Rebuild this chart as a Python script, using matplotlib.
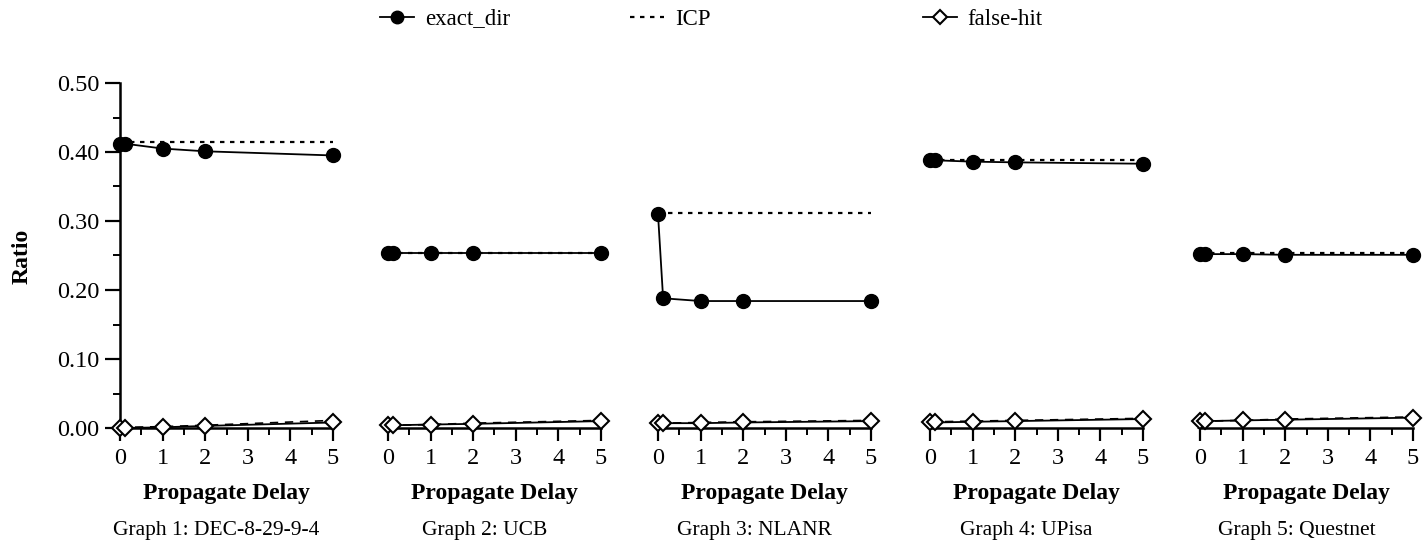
import matplotlib
matplotlib.use("Agg")
import matplotlib.pyplot as plt
from matplotlib.lines import Line2D
from matplotlib.ticker import MultipleLocator, FormatStrFormatter

plt.rcParams['font.family'] = ['Liberation Serif', 'DejaVu Serif']

delays = [0, 0.12, 1, 2, 5]
graph_titles = ["Graph 1: DEC-8-29-9-4", "Graph 2: UCB", "Graph 3: NLANR",
                "Graph 4: UPisa", "Graph 5: Questnet"]

exact_dir = [
    [0.412, 0.412, 0.405, 0.401, 0.395],
    [0.253, 0.253, 0.253, 0.253, 0.253],
    [0.310, 0.188, 0.184, 0.184, 0.184],
    [0.388, 0.388, 0.386, 0.385, 0.383],
    [0.252, 0.252, 0.252, 0.251, 0.251],
]
icp = [0.415, 0.254, 0.311, 0.389, 0.253]
false_hit = [
    [0.000, 0.000, 0.001, 0.003, 0.008],
    [0.004, 0.004, 0.005, 0.006, 0.010],
    [0.007, 0.007, 0.007, 0.008, 0.010],
    [0.008, 0.008, 0.009, 0.010, 0.013],
    [0.010, 0.010, 0.011, 0.012, 0.015],
]
icp_false_hit = [
    [0.000, 0.001, 0.002, 0.004, 0.011],
    [0.004, 0.004, 0.005, 0.007, 0.011],
    [0.007, 0.007, 0.008, 0.009, 0.011],
    [0.008, 0.009, 0.010, 0.011, 0.014],
    [0.010, 0.010, 0.011, 0.013, 0.016],
]

W, H = 1428, 544
fig = plt.figure(figsize=(W / 100, H / 100), dpi=100)

x0_px = [120, 388, 658, 930, 1200]
width_px = 213
top_px, bot_px = 83, 428
ah = bot_px - top_px
fs_tick = 17.5
fs_lab = 17
fs_cap = 15.5

for i in range(5):
    ax = fig.add_axes([x0_px[i] / W, (H - bot_px) / H, width_px / W, ah / H])
    ax.set_xlim(0, 5)
    ax.set_ylim(0, 0.5)
    for s in ['top', 'right']:
        ax.spines[s].set_visible(False)
    ax.spines['bottom'].set_linewidth(1.8)
    ax.spines['left'].set_linewidth(1.8)
    ax.patch.set_alpha(0)

    ax.plot([0, 5], [icp[i], icp[i]], color='black', linestyle=(0, (2, 2.5)), linewidth=1.6, clip_on=False)
    ax.plot(delays, icp_false_hit[i], color='black', linestyle=(0, (5, 4)), linewidth=1.2, clip_on=False)
    ax.plot(delays, exact_dir[i], color='black', linewidth=1.3, marker='o', markersize=10,
            markerfacecolor='black', clip_on=False, zorder=5)
    ax.plot(delays, false_hit[i], color='black', linewidth=1.3, marker='D', markersize=8,
            markerfacecolor='white', markeredgewidth=1.5, clip_on=False, zorder=5)

    ax.xaxis.set_major_locator(MultipleLocator(1))
    ax.xaxis.set_minor_locator(MultipleLocator(0.5))
    ax.tick_params(axis='x', which='major', direction='out', length=9, width=1.6,
                   labelsize=fs_tick, pad=5.5)
    ax.tick_params(axis='x', which='minor', direction='out', length=5, width=1.4)
    ax.text(0.5, (bot_px - 493) / ah, "Propagate Delay", transform=ax.transAxes,
            ha='center', va='center', fontsize=fs_lab, fontweight='bold')
    ax.text(0.5 - 10 / width_px, (bot_px - 530) / ah, graph_titles[i], transform=ax.transAxes,
            ha='center', va='center', fontsize=fs_cap)

    if i == 0:
        ax.yaxis.set_major_locator(MultipleLocator(0.1))
        ax.yaxis.set_minor_locator(MultipleLocator(0.05))
        ax.yaxis.set_major_formatter(FormatStrFormatter('%.2f'))
        ax.tick_params(axis='y', which='major', direction='out', length=11, width=1.6,
                       labelsize=fs_tick, pad=4)
        ax.tick_params(axis='y', which='minor', direction='out', length=5, width=1.4)
    else:
        ax.spines['left'].set_visible(False)
        ax.set_yticks([])
        ax.yaxis.set_minor_locator(MultipleLocator(1))

fig.text(22 / W, 1 - 256 / H, "Ratio", rotation=90, ha='center', va='center',
         fontsize=fs_lab, fontweight='bold')

handles = [
    Line2D([], [], color='black', linewidth=1.3, marker='o', markersize=9),
    Line2D([], [], color='black', linestyle=(0, (2, 2.5)), linewidth=1.6),
    Line2D([], [], color='black', linewidth=1.3, marker='D', markersize=7,
           markerfacecolor='white', markeredgewidth=1.5),
]
labels = ["exact_dir", "ICP", "false-hit"]
leg_x = [380, 630, 923]
for h, lab, lx in zip(handles, labels, leg_x):
    fig.legend([h], [lab], loc='center left', bbox_to_anchor=(lx / W, 1 - 19 / H),
               frameon=False, fontsize=16.5, handlelength=1.5, handletextpad=0.45,
               borderpad=0, borderaxespad=0)

fig.savefig("out.png", dpi=100)
